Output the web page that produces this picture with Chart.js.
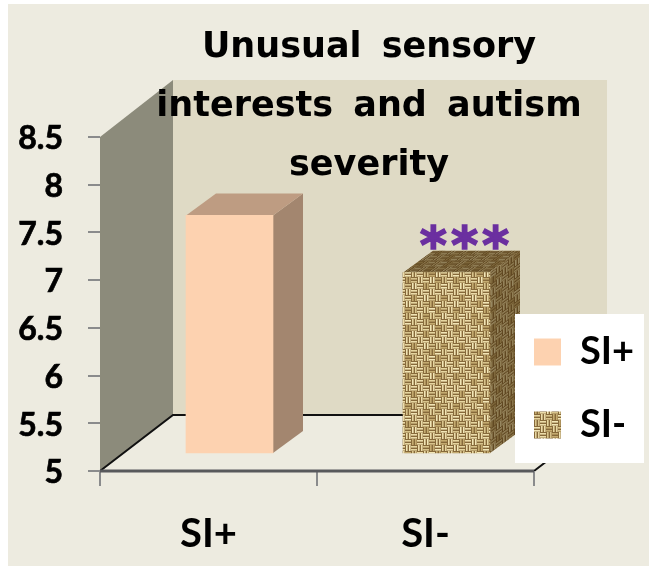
<!DOCTYPE html>
<html>
<head>
<meta charset="utf-8">
<script src="https://cdn.jsdelivr.net/npm/chart.js@4/dist/chart.umd.js"></script>
<style>
  html, body { margin: 0; background: #fff; }
  canvas { display: block; }
</style>
</head>
<body>
<canvas id="chart" width="649" height="566"></canvas>
<script>
const categories = ["SI+", "SI-"];
const scores = [7.5, 6.9];
const titleLines = ["Unusual sensory", "interests and autism", "severity"];
const starLabel = "***";

// offset of the bar front from the axis, and the extrusion of the box
const shiftX = 21, shiftY = -17;
const barDepthX = 30, barDepthY = -22;
const wallDepthX = 73, wallDepthY = -56;

function makeBurlap() {
    const c = document.createElement("canvas");
    c.width = 48;
    c.height = 48;
    const g = c.getContext("2d");
    g.fillStyle = "#86693a";
    g.fillRect(0, 0, 48, 48);
    const lights = ["#f2e6b6", "#d8c48c", "#e6d6a0", "#c4ab70", "#ecdcaa"];
    for (let y = 0; y < 8; y++) {
        for (let x = 0; x < 8; x++) {
            const px = x * 6, py = y * 6;
            g.fillStyle = lights[(x * 7 + y * 3 + x * y) % 5];
            if ((x + y) % 2 === 0) {
                g.fillRect(px, py + 1, 6, 1.6);
                g.fillRect(px, py + 4, 6, 1.6);
            } else {
                g.fillRect(px + 1, py, 1.6, 6);
                g.fillRect(px + 4, py, 1.6, 6);
            }
        }
    }
    return document.getElementById("chart").getContext("2d").createPattern(c, "repeat");
}

const burlap = makeBurlap();
const barFronts = ["#fdd2b0", burlap];
const barTops = ["#be9c82", burlap];
const barSides = ["#a3866f", burlap];
const barShades = [null, "rgba(60,40,10,0.5)"];

const box3d = {
    id: "box3d",
    beforeDraw(chart) {
        const ctx = chart.ctx, a = chart.chartArea;
        ctx.save();
        ctx.fillStyle = "#edebe0";
        ctx.fillRect(8, 4, 641, 562);
        // back wall
        ctx.fillStyle = "#dfdac5";
        ctx.fillRect(a.left + wallDepthX, a.top + wallDepthY - 1, a.right - a.left, a.bottom - a.top);
        // side wall
        ctx.fillStyle = "#8c8b7b";
        ctx.beginPath();
        ctx.moveTo(a.left, a.top);
        ctx.lineTo(a.left + wallDepthX, a.top + wallDepthY - 1);
        ctx.lineTo(a.left + wallDepthX, a.bottom + wallDepthY);
        ctx.lineTo(a.left, a.bottom);
        ctx.closePath();
        ctx.fill();
        // floor
        ctx.fillStyle = "#edebe0";
        ctx.beginPath();
        ctx.moveTo(a.left, a.bottom);
        ctx.lineTo(a.left + wallDepthX, a.bottom + wallDepthY);
        ctx.lineTo(a.right + wallDepthX, a.bottom + wallDepthY);
        ctx.lineTo(a.right, a.bottom);
        ctx.closePath();
        ctx.fill();
        ctx.strokeStyle = "#111";
        ctx.lineWidth = 2;
        ctx.beginPath();
        ctx.moveTo(a.left, a.bottom);
        ctx.lineTo(a.left + wallDepthX, a.bottom + wallDepthY);
        ctx.lineTo(a.right + wallDepthX, a.bottom + wallDepthY);
        ctx.lineTo(a.right, a.bottom);
        ctx.stroke();
        ctx.restore();
    },
    beforeDatasetDraw(chart) {
        const ctx = chart.ctx;
        chart.getDatasetMeta(0).data.forEach((bar, i) => {
            const left = bar.x - bar.width / 2 + shiftX;
            const right = bar.x + bar.width / 2 + shiftX;
            const top = bar.y + shiftY;
            const height = bar.base - bar.y;
            // side face
            ctx.save();
            ctx.transform(1, barDepthY / barDepthX, 0, 1, right, top);
            ctx.fillStyle = barSides[i];
            ctx.fillRect(0, 0, barDepthX, height);
            if (barShades[i]) {
                ctx.fillStyle = barShades[i];
                ctx.fillRect(0, 0, barDepthX, height);
            }
            ctx.restore();
            // top face
            ctx.save();
            ctx.transform(1, 0, barDepthX / barDepthY, 1, left, top);
            ctx.fillStyle = barTops[i];
            ctx.fillRect(0, barDepthY, bar.width, -barDepthY);
            if (barShades[i]) {
                ctx.fillStyle = barShades[i];
                ctx.fillRect(0, barDepthY, bar.width, -barDepthY);
            }
            ctx.restore();
        });
        ctx.save();
        ctx.translate(shiftX, shiftY);
    },
    afterDatasetDraw(chart) {
        chart.ctx.restore();
    },
    afterLayout(chart) {
        // padding of the legend labels is added on both axes, so start further out
        chart.legend.left = 499;
        chart.legend.right = 644;
        chart.legend.top = 298;
        chart.legend.bottom = 500;
    },
    afterDatasetsDraw(chart) {
        const ctx = chart.ctx, a = chart.chartArea;
        const bar = chart.getDatasetMeta(0).data[1];
        ctx.save();
        // front edge of the floor
        ctx.fillStyle = "#58595c";
        ctx.fillRect(a.left, a.bottom - 1.5, a.right - a.left, 3);
        // stars above the second bar
        ctx.fillStyle = "#6b2fa0";
        ctx.strokeStyle = "#6b2fa0";
        ctx.lineWidth = 1.5;
        ctx.font = "bold 52px 'DejaVu Sans'";
        ctx.letterSpacing = "4px";
        ctx.textAlign = "center";
        ctx.textBaseline = "alphabetic";
        ctx.fillText(starLabel, bar.x + shiftX + 20, bar.y + shiftY - 10);
        ctx.strokeText(starLabel, bar.x + shiftX + 20, bar.y + shiftY - 10);
        // title
        ctx.fillStyle = "#000";
        ctx.font = "bold 35px 'DejaVu Sans'";
        ctx.letterSpacing = "0px";
        ctx.wordSpacing = "8px";
        titleLines.forEach((line, i) => {
            ctx.fillText(line, 369, 57 + i * 59);
        });
        ctx.wordSpacing = "0px";
        // legend panel sits over the boxes
        ctx.fillStyle = "#fff";
        ctx.fillRect(515, 314, 129, 149);
        ctx.restore();
        chart.legend.draw();
    }
};

new Chart(document.getElementById("chart"), {
    type: "bar",
    data: {
        labels: categories,
        datasets: [{
            label: "Score",
            data: scores,
            base: 5,
            backgroundColor: barFronts,
            barThickness: 87,
            clip: false
        }]
    },
    plugins: [box3d],
    options: {
        responsive: false,
        animation: false,
        layout: { padding: { top: 137, right: 115, left: 0, bottom: 0 } },
        plugins: {
            tooltip: { enabled: false },
            legend: {
                position: "chartArea",
                align: "start",
                labels: {
                    boxWidth: 27,
                    boxHeight: 27,
                    padding: 35,
                    color: "#000",
                    font: { family: "Lato", weight: "bold", size: 38 },
                    generateLabels: () => categories.map((name, i) => ({
                        text: name,
                        fillStyle: barFronts[i],
                        lineWidth: 0,
                        strokeStyle: "transparent",
                        datasetIndex: 0,
                        index: i
                    }))
                }
            }
        },
        scales: {
            x: {
                afterFit: (scale) => { scale.height = 95; },
                border: { display: false },
                grid: { drawOnChartArea: false, color: "#8a8b8c", tickLength: 15, lineWidth: 2 },
                ticks: { color: "#000", padding: 24, font: { family: "Lato", weight: "bold", size: 40 } }
            },
            y: {
                min: 5,
                max: 8.5,
                afterFit: (scale) => { scale.width = 100; },
                border: { display: false },
                grid: { drawOnChartArea: false, color: "#8a8b8c", tickLength: 12, lineWidth: 2 },
                ticks: {
                    stepSize: 0.5,
                    color: "#000",
                    padding: 25,
                    labelOffset: 2,
                    textStrokeColor: "#000",
                    textStrokeWidth: 0.7,
                    font: { family: "Lato", weight: "bold", size: 32 },
                    callback: (v) => String(v)
                }
            }
        }
    }
});
</script>
</body>
</html>
